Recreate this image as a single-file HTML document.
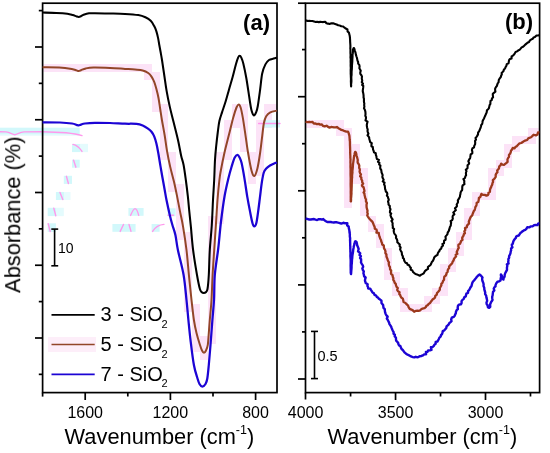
<!DOCTYPE html>
<html><head><meta charset="utf-8"><style>
html,body{margin:0;padding:0;background:#fff;width:550px;height:453px;overflow:hidden}
svg{display:block} text{will-change:transform}
</style></head><body>
<svg width="550" height="453" viewBox="0 0 550 453"><rect x="43.4" y="64" width="4.600000000000001" height="8" fill="#fce3f7"/>
<rect x="48" y="64" width="8" height="8" fill="#fce3f7"/>
<rect x="56" y="64" width="8" height="8" fill="#fce3f7"/>
<rect x="64" y="64" width="8" height="8" fill="#fce3f7"/>
<rect x="72" y="64" width="8" height="8" fill="#fce3f7"/>
<rect x="80" y="64" width="8" height="8" fill="#fce3f7"/>
<rect x="88" y="64" width="8" height="8" fill="#fce3f7"/>
<rect x="96" y="64" width="8" height="8" fill="#fce3f7"/>
<rect x="104" y="64" width="8" height="8" fill="#fce3f7"/>
<rect x="112" y="64" width="8" height="8" fill="#fce3f7"/>
<rect x="120" y="64" width="8" height="8" fill="#fce3f7"/>
<rect x="128" y="64" width="8" height="8" fill="#fce3f7"/>
<rect x="136" y="64" width="8" height="8" fill="#fce3f7"/>
<rect x="144" y="64" width="8" height="8" fill="#fce3f7"/>
<rect x="144" y="72" width="8" height="8" fill="#fce3f7"/>
<rect x="152" y="72" width="8" height="8" fill="#fce3f7"/>
<rect x="152" y="80" width="8" height="8" fill="#fce3f7"/>
<rect x="152" y="88" width="8" height="8" fill="#fce3f7"/>
<rect x="152" y="96" width="8" height="8" fill="#fce3f7"/>
<rect x="152" y="104" width="8" height="8" fill="#fce3f7"/>
<rect x="160" y="104" width="8" height="8" fill="#fce3f7"/>
<rect x="160" y="112" width="8" height="8" fill="#fce3f7"/>
<rect x="160" y="120" width="8" height="8" fill="#fce3f7"/>
<rect x="160" y="128" width="8" height="8" fill="#fce3f7"/>
<rect x="160" y="136" width="8" height="8" fill="#fce3f7"/>
<rect x="160" y="144" width="8" height="8" fill="#fce3f7"/>
<rect x="160" y="152" width="8" height="8" fill="#fce3f7"/>
<rect x="168" y="152" width="8" height="8" fill="#fce3f7"/>
<rect x="168" y="160" width="8" height="8" fill="#fce3f7"/>
<rect x="168" y="168" width="8" height="8" fill="#fce3f7"/>
<rect x="168" y="176" width="8" height="8" fill="#fce3f7"/>
<rect x="168" y="184" width="8" height="8" fill="#fce3f7"/>
<rect x="176" y="184" width="8" height="8" fill="#fce3f7"/>
<rect x="176" y="192" width="8" height="8" fill="#fce3f7"/>
<rect x="176" y="200" width="8" height="8" fill="#fce3f7"/>
<rect x="176" y="208" width="8" height="8" fill="#fce3f7"/>
<rect x="176" y="216" width="8" height="8" fill="#fce3f7"/>
<rect x="176" y="224" width="8" height="8" fill="#fce3f7"/>
<rect x="176" y="232" width="8" height="8" fill="#fce3f7"/>
<rect x="184" y="232" width="8" height="8" fill="#fce3f7"/>
<rect x="184" y="240" width="8" height="8" fill="#fce3f7"/>
<rect x="184" y="248" width="8" height="8" fill="#fce3f7"/>
<rect x="184" y="256" width="8" height="8" fill="#fce3f7"/>
<rect x="184" y="264" width="8" height="8" fill="#fce3f7"/>
<rect x="184" y="272" width="8" height="8" fill="#fce3f7"/>
<rect x="184" y="280" width="8" height="8" fill="#fce3f7"/>
<rect x="184" y="288" width="8" height="8" fill="#fce3f7"/>
<rect x="184" y="296" width="8" height="8" fill="#fce3f7"/>
<rect x="184" y="304" width="8" height="8" fill="#fce3f7"/>
<rect x="192" y="304" width="8" height="8" fill="#fce3f7"/>
<rect x="192" y="312" width="8" height="8" fill="#fce3f7"/>
<rect x="192" y="320" width="8" height="8" fill="#fce3f7"/>
<rect x="192" y="328" width="8" height="8" fill="#fce3f7"/>
<rect x="192" y="336" width="8" height="8" fill="#fce3f7"/>
<rect x="192" y="344" width="8" height="8" fill="#fce3f7"/>
<rect x="200" y="336" width="8" height="8" fill="#fce3f7"/>
<rect x="200" y="344" width="8" height="8" fill="#fce3f7"/>
<rect x="200" y="352" width="8" height="8" fill="#fce3f7"/>
<rect x="208" y="216" width="8" height="8" fill="#fce3f7"/>
<rect x="208" y="224" width="8" height="8" fill="#fce3f7"/>
<rect x="208" y="232" width="8" height="8" fill="#fce3f7"/>
<rect x="208" y="240" width="8" height="8" fill="#fce3f7"/>
<rect x="208" y="248" width="8" height="8" fill="#fce3f7"/>
<rect x="208" y="256" width="8" height="8" fill="#fce3f7"/>
<rect x="208" y="264" width="8" height="8" fill="#fce3f7"/>
<rect x="208" y="272" width="8" height="8" fill="#fce3f7"/>
<rect x="208" y="280" width="8" height="8" fill="#fce3f7"/>
<rect x="208" y="288" width="8" height="8" fill="#fce3f7"/>
<rect x="208" y="296" width="8" height="8" fill="#fce3f7"/>
<rect x="208" y="304" width="8" height="8" fill="#fce3f7"/>
<rect x="208" y="312" width="8" height="8" fill="#fce3f7"/>
<rect x="208" y="320" width="8" height="8" fill="#fce3f7"/>
<rect x="208" y="328" width="8" height="8" fill="#fce3f7"/>
<rect x="208" y="336" width="8" height="8" fill="#fce3f7"/>
<rect x="216" y="152" width="8" height="8" fill="#fce3f7"/>
<rect x="216" y="160" width="8" height="8" fill="#fce3f7"/>
<rect x="216" y="168" width="8" height="8" fill="#fce3f7"/>
<rect x="216" y="176" width="8" height="8" fill="#fce3f7"/>
<rect x="216" y="184" width="8" height="8" fill="#fce3f7"/>
<rect x="216" y="192" width="8" height="8" fill="#fce3f7"/>
<rect x="216" y="200" width="8" height="8" fill="#fce3f7"/>
<rect x="216" y="208" width="8" height="8" fill="#fce3f7"/>
<rect x="216" y="216" width="8" height="8" fill="#fce3f7"/>
<rect x="224" y="120" width="8" height="8" fill="#fce3f7"/>
<rect x="224" y="128" width="8" height="8" fill="#fce3f7"/>
<rect x="224" y="136" width="8" height="8" fill="#fce3f7"/>
<rect x="224" y="144" width="8" height="8" fill="#fce3f7"/>
<rect x="224" y="152" width="8" height="8" fill="#fce3f7"/>
<rect x="232" y="104" width="8" height="8" fill="#fce3f7"/>
<rect x="232" y="112" width="8" height="8" fill="#fce3f7"/>
<rect x="232" y="120" width="8" height="8" fill="#fce3f7"/>
<rect x="240" y="104" width="8" height="8" fill="#fce3f7"/>
<rect x="240" y="112" width="8" height="8" fill="#fce3f7"/>
<rect x="240" y="120" width="8" height="8" fill="#fce3f7"/>
<rect x="240" y="128" width="8" height="8" fill="#fce3f7"/>
<rect x="240" y="136" width="8" height="8" fill="#fce3f7"/>
<rect x="240" y="144" width="8" height="8" fill="#fce3f7"/>
<rect x="248" y="152" width="8" height="8" fill="#fce3f7"/>
<rect x="248" y="160" width="8" height="8" fill="#fce3f7"/>
<rect x="248" y="168" width="8" height="8" fill="#fce3f7"/>
<rect x="248" y="176" width="8" height="8" fill="#fce3f7"/>
<rect x="256" y="120" width="8" height="8" fill="#fce3f7"/>
<rect x="256" y="128" width="8" height="8" fill="#fce3f7"/>
<rect x="256" y="136" width="8" height="8" fill="#fce3f7"/>
<rect x="256" y="144" width="8" height="8" fill="#fce3f7"/>
<rect x="256" y="152" width="8" height="8" fill="#fce3f7"/>
<rect x="256" y="160" width="8" height="8" fill="#fce3f7"/>
<rect x="256" y="168" width="8" height="8" fill="#fce3f7"/>
<rect x="264" y="104" width="8" height="8" fill="#fce3f7"/>
<rect x="264" y="112" width="8" height="8" fill="#fce3f7"/>
<rect x="264" y="120" width="8" height="8" fill="#fce3f7"/>
<rect x="272" y="104" width="4.199999999999989" height="8" fill="#fce3f7"/>
<rect x="306.3" y="120" width="5.699999999999989" height="8" fill="#fce3f7"/>
<rect x="312" y="120" width="8" height="8" fill="#fce3f7"/>
<rect x="320" y="120" width="8" height="8" fill="#fce3f7"/>
<rect x="328" y="120" width="8" height="8" fill="#fce3f7"/>
<rect x="336" y="120" width="8" height="8" fill="#fce3f7"/>
<rect x="336" y="128" width="8" height="8" fill="#fce3f7"/>
<rect x="344" y="128" width="8" height="8" fill="#fce3f7"/>
<rect x="344" y="136" width="8" height="8" fill="#fce3f7"/>
<rect x="344" y="144" width="8" height="8" fill="#fce3f7"/>
<rect x="344" y="152" width="8" height="8" fill="#fce3f7"/>
<rect x="344" y="160" width="8" height="8" fill="#fce3f7"/>
<rect x="344" y="168" width="8" height="8" fill="#fce3f7"/>
<rect x="344" y="176" width="8" height="8" fill="#fce3f7"/>
<rect x="344" y="184" width="8" height="8" fill="#fce3f7"/>
<rect x="344" y="192" width="8" height="8" fill="#fce3f7"/>
<rect x="344" y="200" width="8" height="8" fill="#fce3f7"/>
<rect x="352" y="144" width="8" height="8" fill="#fce3f7"/>
<rect x="352" y="152" width="8" height="8" fill="#fce3f7"/>
<rect x="352" y="160" width="8" height="8" fill="#fce3f7"/>
<rect x="352" y="168" width="8" height="8" fill="#fce3f7"/>
<rect x="352" y="176" width="8" height="8" fill="#fce3f7"/>
<rect x="360" y="168" width="8" height="8" fill="#fce3f7"/>
<rect x="360" y="176" width="8" height="8" fill="#fce3f7"/>
<rect x="360" y="184" width="8" height="8" fill="#fce3f7"/>
<rect x="360" y="192" width="8" height="8" fill="#fce3f7"/>
<rect x="360" y="200" width="8" height="8" fill="#fce3f7"/>
<rect x="360" y="208" width="8" height="8" fill="#fce3f7"/>
<rect x="368" y="216" width="8" height="8" fill="#fce3f7"/>
<rect x="368" y="224" width="8" height="8" fill="#fce3f7"/>
<rect x="376" y="224" width="8" height="8" fill="#fce3f7"/>
<rect x="376" y="232" width="8" height="8" fill="#fce3f7"/>
<rect x="376" y="240" width="8" height="8" fill="#fce3f7"/>
<rect x="384" y="248" width="8" height="8" fill="#fce3f7"/>
<rect x="384" y="256" width="8" height="8" fill="#fce3f7"/>
<rect x="384" y="264" width="8" height="8" fill="#fce3f7"/>
<rect x="384" y="272" width="8" height="8" fill="#fce3f7"/>
<rect x="392" y="272" width="8" height="8" fill="#fce3f7"/>
<rect x="392" y="280" width="8" height="8" fill="#fce3f7"/>
<rect x="392" y="288" width="8" height="8" fill="#fce3f7"/>
<rect x="400" y="288" width="8" height="8" fill="#fce3f7"/>
<rect x="400" y="296" width="8" height="8" fill="#fce3f7"/>
<rect x="400" y="304" width="8" height="8" fill="#fce3f7"/>
<rect x="408" y="304" width="8" height="8" fill="#fce3f7"/>
<rect x="416" y="304" width="8" height="8" fill="#fce3f7"/>
<rect x="424" y="296" width="8" height="8" fill="#fce3f7"/>
<rect x="424" y="304" width="8" height="8" fill="#fce3f7"/>
<rect x="432" y="288" width="8" height="8" fill="#fce3f7"/>
<rect x="432" y="296" width="8" height="8" fill="#fce3f7"/>
<rect x="440" y="264" width="8" height="8" fill="#fce3f7"/>
<rect x="440" y="272" width="8" height="8" fill="#fce3f7"/>
<rect x="440" y="280" width="8" height="8" fill="#fce3f7"/>
<rect x="440" y="288" width="8" height="8" fill="#fce3f7"/>
<rect x="448" y="248" width="8" height="8" fill="#fce3f7"/>
<rect x="448" y="256" width="8" height="8" fill="#fce3f7"/>
<rect x="448" y="264" width="8" height="8" fill="#fce3f7"/>
<rect x="456" y="232" width="8" height="8" fill="#fce3f7"/>
<rect x="456" y="240" width="8" height="8" fill="#fce3f7"/>
<rect x="456" y="248" width="8" height="8" fill="#fce3f7"/>
<rect x="464" y="208" width="8" height="8" fill="#fce3f7"/>
<rect x="464" y="216" width="8" height="8" fill="#fce3f7"/>
<rect x="464" y="224" width="8" height="8" fill="#fce3f7"/>
<rect x="464" y="232" width="8" height="8" fill="#fce3f7"/>
<rect x="472" y="192" width="8" height="8" fill="#fce3f7"/>
<rect x="472" y="200" width="8" height="8" fill="#fce3f7"/>
<rect x="472" y="208" width="8" height="8" fill="#fce3f7"/>
<rect x="480" y="192" width="8" height="8" fill="#fce3f7"/>
<rect x="488" y="168" width="8" height="8" fill="#fce3f7"/>
<rect x="488" y="176" width="8" height="8" fill="#fce3f7"/>
<rect x="488" y="184" width="8" height="8" fill="#fce3f7"/>
<rect x="488" y="192" width="8" height="8" fill="#fce3f7"/>
<rect x="496" y="160" width="8" height="8" fill="#fce3f7"/>
<rect x="496" y="168" width="8" height="8" fill="#fce3f7"/>
<rect x="504" y="144" width="8" height="8" fill="#fce3f7"/>
<rect x="504" y="152" width="8" height="8" fill="#fce3f7"/>
<rect x="504" y="160" width="8" height="8" fill="#fce3f7"/>
<rect x="512" y="136" width="8" height="8" fill="#fce3f7"/>
<rect x="512" y="144" width="8" height="8" fill="#fce3f7"/>
<rect x="520" y="136" width="8" height="8" fill="#fce3f7"/>
<rect x="528" y="128" width="8" height="8" fill="#fce3f7"/>
<rect x="528" y="136" width="8" height="8" fill="#fce3f7"/>
<rect x="536" y="128" width="2.7999999999999545" height="8" fill="#fce3f7"/>
<rect x="0" y="127.7" width="79.7" height="6.799999999999997" fill="#d2f8fb" opacity="1"/>
<rect x="0" y="134.5" width="79.7" height="1.3000000000000114" fill="#d2f8fb" opacity="0.5"/>
<path d="M0,131.8 L6,131.9 C10,132.3 12.5,134.6 14.8,134.7 C17,134.6 19.5,132.4 24,131.9 L42,131.8 C60,132 72,132.6 82,135.6" fill="none" stroke="#ff98ec" stroke-width="1.4" stroke-linecap="round"/>
<rect x="72" y="143.9" width="8" height="8.199999999999989" fill="#d2f8fb" opacity="1"/>
<rect x="80" y="143.9" width="8" height="8.199999999999989" fill="#d2f8fb" opacity="0.6"/>
<path d="M73,144.4 C76,145 79,147 82,151.4" fill="none" stroke="#ff98ec" stroke-width="1.4" stroke-linecap="round"/>
<rect x="72" y="159.7" width="7.700000000000003" height="8.0" fill="#d2f8fb" opacity="1"/>
<path d="M73.6,160.2 L75.9,167.2" fill="none" stroke="#ff98ec" stroke-width="1.4" stroke-linecap="round"/>
<rect x="63.8" y="175.8" width="8.200000000000003" height="8.099999999999994" fill="#d2f8fb" opacity="1"/>
<path d="M66.4,176.3 L68.4,183.5" fill="none" stroke="#ff98ec" stroke-width="1.4" stroke-linecap="round"/>
<rect x="55.9" y="192" width="8.100000000000001" height="8" fill="#d2f8fb" opacity="1"/>
<rect x="64" y="192" width="6.5" height="8" fill="#d2f8fb" opacity="0.5"/>
<path d="M60,192.5 L62.8,199.6" fill="none" stroke="#ff98ec" stroke-width="1.4" stroke-linecap="round"/>
<rect x="47.7" y="207.8" width="8.299999999999997" height="8.299999999999983" fill="#d2f8fb" opacity="1"/>
<rect x="56" y="207.8" width="7.799999999999997" height="8.299999999999983" fill="#d2f8fb" opacity="0.6"/>
<path d="M53.8,208.3 L55.8,215.7" fill="none" stroke="#ff98ec" stroke-width="1.4" stroke-linecap="round"/>
<rect x="47.7" y="223.3" width="8.199999999999996" height="8.599999999999994" fill="#d2f8fb" opacity="1"/>
<path d="M48.2,223.8 L50.2,231.5" fill="none" stroke="#ff98ec" stroke-width="1.4" stroke-linecap="round"/>
<rect x="128.4" y="208" width="15.199999999999989" height="7.800000000000011" fill="#d2f8fb" opacity="1"/>
<path d="M130.6,215.4 C132.5,211 133.8,208.6 135,208.6 C136.4,208.6 137.6,211 138.7,215.4" fill="none" stroke="#ff98ec" stroke-width="1.4" stroke-linecap="round"/>
<rect x="112.4" y="224" width="23.19999999999999" height="7.800000000000011" fill="#d2f8fb" opacity="1"/>
<path d="M120.2,231.4 L123.5,224.5" fill="none" stroke="#ff98ec" stroke-width="1.4" stroke-linecap="round"/>
<path d="M129,224.5 L131,231.4" fill="none" stroke="#ff98ec" stroke-width="1.4" stroke-linecap="round"/>
<rect x="151.6" y="224" width="8.0" height="7.800000000000011" fill="#d2f8fb" opacity="1"/>
<path d="M152.6,231.4 C155,227.5 158,224.8 164,224.4" fill="none" stroke="#ff98ec" stroke-width="1.4" stroke-linecap="round"/>
<rect x="167.6" y="208.3" width="8.0" height="8.0" fill="#d2f8fb" opacity="1"/>
<path d="M168,215.3 L173.5,215.3" fill="none" stroke="#ff98ec" stroke-width="1.4" stroke-linecap="round"/>
<rect x="263.2" y="120.2" width="16.80000000000001" height="7.299999999999997" fill="#d2f8fb" opacity="1"/>
<path d="M258.6,123.5 L280,123.5" fill="none" stroke="#ff98ec" stroke-width="1.4" stroke-linecap="round"/>
<rect x="48" y="337" width="48" height="15" fill="#fdeef9" opacity="1"/>
<rect x="42.6" y="3.2" width="234.4" height="389.40000000000003" fill="none" stroke="#000" stroke-width="1.7"/>
<rect x="305.5" y="3.2" width="234.10000000000002" height="389.40000000000003" fill="none" stroke="#000" stroke-width="1.7"/>
<line x1="298" y1="3.2" x2="305.5" y2="3.2" stroke="#000" stroke-width="1.7"/>
<line x1="42.6" y1="392.6" x2="42.6" y2="396.6" stroke="#000" stroke-width="1.7"/>
<line x1="305.5" y1="392.6" x2="305.5" y2="399.5" stroke="#000" stroke-width="1.7"/>
<line x1="35" y1="47.0" x2="42.6" y2="47.0" stroke="#000" stroke-width="1.7"/>
<line x1="35" y1="119.75" x2="42.6" y2="119.75" stroke="#000" stroke-width="1.7"/>
<line x1="35" y1="192.5" x2="42.6" y2="192.5" stroke="#000" stroke-width="1.7"/>
<line x1="35" y1="265.25" x2="42.6" y2="265.25" stroke="#000" stroke-width="1.7"/>
<line x1="35" y1="338.0" x2="42.6" y2="338.0" stroke="#000" stroke-width="1.7"/>
<line x1="38.8" y1="10.6" x2="42.6" y2="10.6" stroke="#000" stroke-width="1.7"/>
<line x1="38.8" y1="83.35" x2="42.6" y2="83.35" stroke="#000" stroke-width="1.7"/>
<line x1="38.8" y1="156.1" x2="42.6" y2="156.1" stroke="#000" stroke-width="1.7"/>
<line x1="38.8" y1="228.85" x2="42.6" y2="228.85" stroke="#000" stroke-width="1.7"/>
<line x1="38.8" y1="301.6" x2="42.6" y2="301.6" stroke="#000" stroke-width="1.7"/>
<line x1="38.8" y1="374.35" x2="42.6" y2="374.35" stroke="#000" stroke-width="1.7"/>
<line x1="298" y1="96.7" x2="305.5" y2="96.7" stroke="#000" stroke-width="1.7"/>
<line x1="298" y1="190.8" x2="305.5" y2="190.8" stroke="#000" stroke-width="1.7"/>
<line x1="298" y1="284.9" x2="305.5" y2="284.9" stroke="#000" stroke-width="1.7"/>
<line x1="298" y1="378.99999999999994" x2="305.5" y2="378.99999999999994" stroke="#000" stroke-width="1.7"/>
<line x1="302" y1="49.6" x2="305.5" y2="49.6" stroke="#000" stroke-width="1.7"/>
<line x1="302" y1="143.7" x2="305.5" y2="143.7" stroke="#000" stroke-width="1.7"/>
<line x1="302" y1="237.79999999999998" x2="305.5" y2="237.79999999999998" stroke="#000" stroke-width="1.7"/>
<line x1="302" y1="331.9" x2="305.5" y2="331.9" stroke="#000" stroke-width="1.7"/>
<line x1="85.2" y1="392.6" x2="85.2" y2="400" stroke="#000" stroke-width="1.7"/>
<line x1="170.4" y1="392.6" x2="170.4" y2="400" stroke="#000" stroke-width="1.7"/>
<line x1="255.6" y1="392.6" x2="255.6" y2="400" stroke="#000" stroke-width="1.7"/>
<line x1="127.80000000000001" y1="392.6" x2="127.80000000000001" y2="396.5" stroke="#000" stroke-width="1.7"/>
<line x1="213.0" y1="392.6" x2="213.0" y2="396.5" stroke="#000" stroke-width="1.7"/>
<line x1="395.55" y1="392.6" x2="395.55" y2="400" stroke="#000" stroke-width="1.7"/>
<line x1="485.5" y1="392.6" x2="485.5" y2="400" stroke="#000" stroke-width="1.7"/>
<line x1="350.57500000000005" y1="392.6" x2="350.57500000000005" y2="396.5" stroke="#000" stroke-width="1.7"/>
<line x1="440.52500000000003" y1="392.6" x2="440.52500000000003" y2="396.5" stroke="#000" stroke-width="1.7"/>
<line x1="530.475" y1="392.6" x2="530.475" y2="396.5" stroke="#000" stroke-width="1.7"/>
<path d="M42.60,12.60 C44.90,12.65 52.28,12.72 56.40,12.90 C60.52,13.08 64.58,13.35 67.30,13.70 C70.02,14.05 71.17,14.55 72.70,15.00 C74.23,15.45 75.50,16.08 76.50,16.40 C77.50,16.72 77.95,16.93 78.70,16.90 C79.45,16.87 80.18,16.55 81.00,16.20 C81.82,15.85 82.27,15.28 83.60,14.80 C84.93,14.32 87.10,13.55 89.00,13.30 C90.90,13.05 91.58,13.27 95.00,13.30 C98.42,13.33 104.50,13.40 109.50,13.50 C114.50,13.60 120.20,13.63 125.00,13.90 C129.80,14.17 134.90,14.53 138.30,15.10 C141.70,15.67 143.33,16.35 145.40,17.30 C147.47,18.25 149.23,19.33 150.70,20.80 C152.17,22.27 153.25,24.33 154.20,26.10 C155.15,27.87 155.73,29.32 156.40,31.40 C157.07,33.48 157.72,36.33 158.20,38.60 C158.68,40.87 158.90,42.77 159.30,45.00 C159.70,47.23 160.15,49.50 160.60,52.00 C161.05,54.50 161.38,56.08 162.00,60.00 C162.62,63.92 163.53,70.35 164.30,75.50 C165.07,80.65 165.70,85.75 166.60,90.90 C167.50,96.05 168.55,101.25 169.70,106.40 C170.85,111.55 172.10,116.12 173.50,121.80 C174.90,127.48 176.82,134.82 178.10,140.50 C179.38,146.18 180.28,151.82 181.20,155.90 C182.12,159.98 182.82,160.90 183.60,165.00 C184.38,169.10 185.20,175.35 185.90,180.50 C186.60,185.65 187.23,190.75 187.80,195.90 C188.37,201.05 188.78,206.25 189.30,211.40 C189.82,216.55 190.27,220.37 190.90,226.80 C191.53,233.23 192.08,241.97 193.10,250.00 C194.12,258.03 195.87,268.50 197.00,275.00 C198.13,281.50 199.10,286.13 199.90,289.00 C200.70,291.87 201.15,291.55 201.80,292.20 C202.45,292.85 203.13,292.90 203.80,292.90 C204.47,292.90 205.18,292.85 205.80,292.20 C206.42,291.55 207.00,291.87 207.50,289.00 C208.00,286.13 208.42,281.50 208.80,275.00 C209.18,268.50 209.30,258.33 209.80,250.00 C210.30,241.67 211.27,233.33 211.80,225.00 C212.33,216.67 212.60,207.50 213.00,200.00 C213.40,192.50 213.87,186.67 214.20,180.00 C214.53,173.33 214.67,165.67 215.00,160.00 C215.33,154.33 215.73,150.67 216.20,146.00 C216.67,141.33 217.27,136.17 217.80,132.00 C218.33,127.83 218.68,124.32 219.40,121.00 C220.12,117.68 221.07,115.35 222.10,112.10 C223.13,108.85 224.43,105.32 225.60,101.50 C226.77,97.68 227.92,93.32 229.10,89.20 C230.28,85.08 231.55,81.00 232.70,76.80 C233.85,72.60 235.10,67.20 236.00,64.00 C236.90,60.80 237.48,58.97 238.10,57.60 C238.72,56.23 239.17,55.80 239.70,55.80 C240.23,55.80 240.70,56.32 241.30,57.60 C241.90,58.88 242.47,60.10 243.30,63.50 C244.13,66.90 245.28,72.25 246.30,78.00 C247.32,83.75 248.57,92.75 249.40,98.00 C250.23,103.25 250.57,106.60 251.30,109.50 C252.03,112.40 252.98,114.95 253.80,115.40 C254.62,115.85 255.53,113.77 256.20,112.20 C256.87,110.63 257.13,109.87 257.80,106.00 C258.47,102.13 259.47,94.42 260.20,89.00 C260.93,83.58 261.33,77.60 262.20,73.50 C263.07,69.40 264.27,66.65 265.40,64.40 C266.53,62.15 267.63,60.97 269.00,60.00 C270.37,59.03 272.27,58.98 273.60,58.60 C274.93,58.22 276.43,57.85 277.00,57.70" fill="none" stroke="#000" stroke-width="2.05" stroke-linejoin="round"/>
<path d="M42.60,67.30 C45.35,67.33 54.23,67.22 59.10,67.50 C63.97,67.78 68.90,68.52 71.80,69.00 C74.70,69.48 75.33,70.07 76.50,70.40 C77.67,70.73 78.05,71.03 78.80,71.00 C79.55,70.97 79.83,70.63 81.00,70.20 C82.17,69.77 83.72,68.85 85.80,68.40 C87.88,67.95 89.47,67.58 93.50,67.50 C97.53,67.42 104.75,67.67 110.00,67.90 C115.25,68.13 120.83,68.62 125.00,68.90 C129.17,69.18 132.05,69.33 135.00,69.60 C137.95,69.87 140.50,69.93 142.70,70.50 C144.90,71.07 146.73,71.98 148.20,73.00 C149.67,74.02 150.50,75.12 151.50,76.60 C152.50,78.08 153.38,79.83 154.20,81.90 C155.02,83.97 155.68,86.32 156.40,89.00 C157.12,91.68 157.87,94.67 158.50,98.00 C159.13,101.33 159.62,105.25 160.20,109.00 C160.78,112.75 161.25,116.08 162.00,120.50 C162.75,124.92 163.87,130.43 164.70,135.50 C165.53,140.57 166.10,145.75 167.00,150.90 C167.90,156.05 168.93,161.25 170.10,166.40 C171.27,171.55 172.85,176.88 174.00,181.80 C175.15,186.72 176.00,190.97 177.00,195.90 C178.00,200.83 178.98,206.25 180.00,211.40 C181.02,216.55 182.02,220.37 183.10,226.80 C184.18,233.23 185.53,241.97 186.50,250.00 C187.47,258.03 188.07,266.67 188.90,275.00 C189.73,283.33 190.67,292.50 191.50,300.00 C192.33,307.50 193.07,314.50 193.90,320.00 C194.73,325.50 195.50,328.87 196.50,333.00 C197.50,337.13 198.98,341.88 199.90,344.80 C200.82,347.72 201.32,349.17 202.00,350.50 C202.68,351.83 203.33,352.80 204.00,352.80 C204.67,352.80 205.37,351.83 206.00,350.50 C206.63,349.17 207.33,347.72 207.80,344.80 C208.27,341.88 208.47,337.13 208.80,333.00 C209.13,328.87 209.35,325.50 209.80,320.00 C210.25,314.50 211.03,307.50 211.50,300.00 C211.97,292.50 212.15,283.33 212.60,275.00 C213.05,266.67 213.65,258.33 214.20,250.00 C214.75,241.67 215.35,233.33 215.90,225.00 C216.45,216.67 216.92,207.50 217.50,200.00 C218.08,192.50 218.85,184.88 219.40,180.00 C219.95,175.12 219.97,175.20 220.80,170.70 C221.63,166.20 223.07,158.90 224.40,153.00 C225.73,147.10 227.33,141.18 228.80,135.30 C230.27,129.42 231.92,122.33 233.20,117.70 C234.48,113.07 235.58,109.70 236.50,107.50 C237.42,105.30 238.00,104.45 238.70,104.50 C239.40,104.55 240.02,105.60 240.70,107.80 C241.38,110.00 242.00,113.12 242.80,117.70 C243.60,122.28 244.62,129.42 245.50,135.30 C246.38,141.18 247.10,147.13 248.10,153.00 C249.10,158.87 250.47,166.67 251.50,170.50 C252.53,174.33 253.32,176.33 254.30,176.00 C255.28,175.67 256.43,172.33 257.40,168.50 C258.37,164.67 259.28,158.53 260.10,153.00 C260.92,147.47 261.67,140.30 262.30,135.30 C262.93,130.30 263.25,126.17 263.90,123.00 C264.55,119.83 265.13,118.08 266.20,116.30 C267.27,114.52 268.50,113.25 270.30,112.30 C272.10,111.35 275.88,110.88 277.00,110.60" fill="none" stroke="#924628" stroke-width="2.0" stroke-linejoin="round"/>
<path d="M42.60,122.30 C45.50,122.33 55.10,122.30 60.00,122.50 C64.90,122.70 69.25,123.12 72.00,123.50 C74.75,123.88 75.38,124.48 76.50,124.80 C77.62,125.12 77.95,125.43 78.70,125.40 C79.45,125.37 79.95,124.92 81.00,124.60 C82.05,124.28 82.67,123.80 85.00,123.50 C87.33,123.20 90.83,122.88 95.00,122.80 C99.17,122.72 105.00,122.85 110.00,123.00 C115.00,123.15 120.58,123.55 125.00,123.70 C129.42,123.85 133.55,123.60 136.50,123.90 C139.45,124.20 140.78,124.70 142.70,125.50 C144.62,126.30 146.53,127.65 148.00,128.70 C149.47,129.75 150.47,130.52 151.50,131.80 C152.53,133.08 153.38,134.45 154.20,136.40 C155.02,138.35 155.73,140.82 156.40,143.50 C157.07,146.18 157.52,148.68 158.20,152.50 C158.88,156.32 159.80,162.28 160.50,166.40 C161.20,170.52 161.70,173.27 162.40,177.20 C163.10,181.13 164.02,186.20 164.70,190.00 C165.38,193.80 165.62,195.67 166.50,200.00 C167.38,204.33 169.02,211.83 170.00,216.00 C170.98,220.17 171.50,221.83 172.40,225.00 C173.30,228.17 174.48,230.83 175.40,235.00 C176.32,239.17 176.53,243.33 177.90,250.00 C179.27,256.67 182.17,266.67 183.60,275.00 C185.03,283.33 185.70,292.50 186.50,300.00 C187.30,307.50 187.73,313.33 188.40,320.00 C189.07,326.67 189.58,332.50 190.50,340.00 C191.42,347.50 192.73,358.58 193.90,365.00 C195.07,371.42 196.57,375.33 197.50,378.50 C198.43,381.67 198.70,382.63 199.50,384.00 C200.30,385.37 201.30,386.70 202.30,386.70 C203.30,386.70 204.67,385.37 205.50,384.00 C206.33,382.63 206.75,381.67 207.30,378.50 C207.85,375.33 208.27,370.58 208.80,365.00 C209.33,359.42 209.90,352.50 210.50,345.00 C211.10,337.50 211.82,327.50 212.40,320.00 C212.98,312.50 213.60,307.50 214.00,300.00 C214.40,292.50 214.08,283.67 214.80,275.00 C215.52,266.33 217.27,256.92 218.30,248.00 C219.33,239.08 219.95,230.17 221.00,221.50 C222.05,212.83 223.35,203.25 224.60,196.00 C225.85,188.75 227.35,182.83 228.50,178.00 C229.65,173.17 230.48,170.37 231.50,167.00 C232.52,163.63 233.60,159.83 234.60,157.80 C235.60,155.77 236.67,154.85 237.50,154.80 C238.33,154.75 238.92,156.12 239.60,157.50 C240.28,158.88 240.80,159.67 241.60,163.10 C242.40,166.53 243.45,172.47 244.40,178.10 C245.35,183.73 246.35,191.27 247.30,196.90 C248.25,202.53 249.23,207.52 250.10,211.90 C250.97,216.28 251.82,220.78 252.50,223.20 C253.18,225.62 253.57,226.40 254.20,226.40 C254.83,226.40 255.65,225.62 256.30,223.20 C256.95,220.78 257.48,216.28 258.10,211.90 C258.72,207.52 259.37,201.90 260.00,196.90 C260.63,191.90 261.27,185.97 261.90,181.90 C262.53,177.83 263.12,174.68 263.80,172.50 C264.48,170.32 264.97,169.97 266.00,168.80 C267.03,167.63 268.43,166.48 270.00,165.50 C271.57,164.52 274.23,163.40 275.40,162.90 C276.57,162.40 276.73,162.57 277.00,162.50" fill="none" stroke="#1c04d4" stroke-width="2.25" stroke-linejoin="round"/>
<path d="M305.60,20.60 L306.52,20.60 L307.72,21.06 L309.24,20.92 L310.84,21.06 L312.49,20.97 L314.01,21.41 L315.50,22.06 L317.11,21.83 L318.72,22.13 L320.31,21.86 L321.81,22.01 L323.19,22.08 L325.18,21.71 L326.47,23.24 L327.99,23.61 L329.46,24.01 L331.41,23.31 L333.19,23.35 L335.06,23.93 L336.63,24.46 L338.23,25.21 L339.92,25.57 L341.32,26.30 L343.23,26.57 L344.57,27.70 L345.80,28.53 L347.46,29.49 L347.58,31.46 L348.92,32.62 L349.43,34.72 L349.72,35.83 L349.89,37.07 L350.00,38.49 L350.10,40.12 L350.16,42.00 L350.24,43.16 L350.32,44.37 L350.39,45.65 L350.39,47.00 L350.31,48.43 L350.47,49.94 L350.43,51.53 L350.44,53.22 L350.59,55.00 L350.52,56.23 L350.46,57.57 L350.69,58.98 L350.61,60.46 L350.61,61.98 L350.68,63.54 L350.62,65.11 L350.68,66.67 L350.79,68.21 L350.66,69.72 L350.69,71.16 L350.70,72.54 L350.69,73.82 L350.78,75.00 L350.83,77.05 L350.94,79.20 L350.85,81.31 L350.95,83.23 L350.97,84.83 L351.06,85.97 L351.09,86.49 L351.07,86.29 L351.22,85.82 L351.06,85.05 L351.14,84.05 L351.30,82.84 L351.42,81.45 L351.42,79.91 L351.33,78.26 L351.35,76.53 L351.59,74.76 L351.59,72.97 L351.63,71.20 L351.83,69.50 L351.91,67.87 L351.93,66.36 L352.02,65.00 L352.13,63.36 L352.30,61.65 L352.34,59.90 L352.43,58.14 L352.54,56.41 L352.52,54.74 L352.82,53.20 L352.93,51.78 L353.04,50.53 L353.03,49.47 L353.28,48.70 L353.54,48.24 L353.99,48.01 L354.39,48.98 L354.83,50.59 L355.50,52.54 L355.87,54.66 L356.47,56.51 L356.91,57.77 L357.19,59.15 L357.49,60.59 L358.13,61.96 L358.14,63.57 L359.29,64.89 L359.59,66.48 L359.37,68.20 L360.08,69.43 L360.74,70.75 L360.27,72.36 L360.33,73.89 L361.39,75.24 L362.03,76.66 L361.76,78.18 L361.98,79.55 L362.25,80.82 L361.72,82.09 L362.97,83.66 L362.14,84.89 L363.28,85.87 L363.19,87.42 L362.84,90.02 L362.73,91.05 L362.94,92.15 L363.27,93.32 L363.47,94.60 L363.59,95.96 L363.54,97.39 L363.98,98.83 L363.93,100.37 L363.95,101.92 L364.34,103.47 L364.17,105.09 L364.41,106.67 L363.97,108.32 L364.84,109.81 L365.33,111.32 L365.48,112.82 L365.51,114.30 L365.30,115.80 L366.01,117.22 L365.90,118.78 L365.49,120.39 L367.53,121.70 L367.13,123.34 L366.77,124.97 L366.93,126.52 L367.21,128.04 L367.71,129.50 L367.49,131.04 L367.87,132.44 L368.44,133.77 L367.46,135.31 L368.56,136.42 L369.18,137.54 L369.24,138.69 L369.78,140.56 L370.22,142.21 L371.76,143.23 L371.44,144.83 L371.42,146.27 L372.79,147.00 L372.93,148.33 L373.09,149.68 L373.67,150.94 L373.97,152.39 L375.77,153.23 L375.81,154.80 L376.37,156.16 L376.56,157.67 L376.93,159.10 L378.93,159.88 L377.98,161.80 L379.47,162.80 L379.10,164.45 L380.42,165.52 L380.20,167.09 L380.22,168.58 L381.17,169.77 L381.43,171.16 L381.57,172.58 L382.20,173.86 L382.64,175.19 L382.33,176.85 L382.84,178.30 L383.68,179.70 L382.73,181.42 L384.57,182.64 L384.00,184.31 L384.78,185.74 L384.95,187.31 L385.03,188.74 L385.57,190.06 L385.76,191.47 L387.00,192.61 L387.37,194.00 L386.88,195.64 L387.89,196.91 L388.27,198.39 L388.80,199.87 L387.99,201.54 L388.51,203.00 L388.53,204.61 L389.83,206.00 L389.75,207.68 L390.52,209.17 L390.02,210.86 L389.95,212.41 L391.23,213.63 L390.45,215.11 L390.98,216.75 L391.69,218.19 L392.64,219.48 L391.42,221.00 L392.24,222.21 L392.67,223.48 L392.54,224.93 L392.85,226.36 L392.76,227.91 L394.15,229.07 L393.67,230.74 L393.94,232.22 L394.38,233.65 L395.47,234.88 L396.16,236.22 L395.94,237.88 L396.80,239.17 L397.32,240.58 L397.32,242.18 L398.50,243.35 L399.81,244.48 L399.56,246.20 L400.65,247.51 L400.10,249.39 L400.81,250.82 L401.66,252.12 L401.88,253.53 L401.97,254.82 L402.88,256.38 L402.89,257.89 L403.92,258.82 L404.12,260.22 L404.71,261.52 L405.50,262.67 L407.13,263.21 L407.50,264.81 L409.22,265.30 L409.75,266.73 L410.87,267.79 L410.64,269.71 L412.20,270.17 L413.04,271.93 L414.29,273.05 L415.51,273.99 L416.99,274.39 L418.38,275.08 L419.89,275.75 L421.07,274.66 L422.38,274.14 L423.76,273.33 L424.44,272.09 L425.14,270.81 L426.40,269.86 L428.06,268.87 L427.91,267.09 L429.08,266.04 L430.49,264.99 L431.27,263.50 L431.84,261.92 L432.98,260.79 L433.63,259.42 L434.07,257.90 L434.84,256.65 L436.04,255.74 L437.45,254.95 L437.81,253.36 L438.52,252.09 L439.36,251.01 L439.87,249.70 L441.16,248.76 L441.58,247.07 L443.04,245.57 L442.45,244.07 L443.96,243.41 L444.07,242.07 L444.06,240.63 L445.61,239.74 L445.72,238.25 L445.46,236.58 L446.51,235.36 L447.49,234.08 L447.71,232.50 L448.71,231.19 L449.20,229.70 L449.59,228.39 L449.88,227.02 L450.71,225.78 L450.85,224.31 L451.19,222.87 L450.58,221.15 L452.21,220.06 L452.79,218.65 L452.57,217.00 L452.93,215.52 L454.34,214.35 L453.29,212.45 L454.63,211.29 L455.87,210.11 L454.97,208.35 L456.06,207.25 L457.00,206.09 L456.68,204.48 L457.43,203.25 L458.05,201.98 L457.82,200.39 L458.63,199.18 L459.26,197.91 L459.95,196.65 L460.07,195.20 L460.46,193.86 L460.57,192.42 L461.26,191.18 L462.16,190.01 L462.25,188.47 L462.27,186.88 L462.66,185.38 L464.47,184.21 L464.21,182.52 L464.36,180.94 L463.39,179.12 L465.04,177.93 L465.31,176.46 L466.12,175.16 L465.91,173.68 L466.00,172.34 L466.53,171.18 L465.81,169.80 L467.50,168.20 L467.60,166.62 L467.51,165.26 L468.65,164.31 L469.20,163.12 L468.35,161.24 L469.23,159.42 L469.96,158.40 L470.29,157.17 L470.46,155.81 L470.65,154.38 L472.33,153.35 L472.35,151.75 L471.93,149.98 L472.35,148.44 L474.06,147.31 L474.28,145.68 L475.11,144.27 L475.21,142.63 L475.05,140.92 L476.00,139.64 L475.52,137.97 L476.55,136.85 L477.31,135.63 L478.03,134.39 L478.03,132.89 L478.77,131.66 L479.51,130.43 L479.98,129.10 L480.60,127.82 L480.95,126.44 L481.27,125.03 L482.22,123.89 L482.46,122.45 L482.65,120.99 L483.26,119.70 L484.04,118.48 L484.54,117.13 L485.20,115.85 L485.70,114.50 L486.33,113.20 L486.78,111.82 L486.92,110.31 L488.13,109.26 L488.95,108.04 L489.27,106.61 L489.59,105.18 L490.39,103.95 L490.38,102.40 L490.54,100.93 L491.82,99.91 L491.94,98.42 L493.10,97.28 L492.88,95.62 L492.76,93.99 L493.88,92.78 L495.41,91.70 L495.11,90.02 L495.18,88.48 L495.89,87.18 L496.86,86.01 L497.29,84.70 L497.61,83.40 L498.55,82.40 L498.67,81.16 L498.79,80.00 L499.76,78.34 L500.82,77.03 L501.18,75.61 L501.80,74.44 L501.62,72.90 L502.58,71.96 L503.56,70.95 L503.89,69.44 L505.07,68.44 L505.59,67.02 L506.43,65.71 L506.75,64.11 L508.52,63.30 L508.80,61.70 L509.05,60.09 L509.94,58.94 L511.57,58.45 L511.60,56.42 L513.00,55.60 L514.05,54.59 L514.82,53.30 L515.58,51.95 L517.08,51.39 L518.30,50.41 L519.60,49.71 L520.65,48.63 L521.64,47.41 L523.07,46.71 L524.21,45.65 L525.31,44.61 L526.43,43.66 L527.44,42.72 L529.07,41.94 L529.98,40.31 L531.40,39.44 L532.80,38.72 L533.60,37.39 L534.91,37.04 L536.51,35.46 L538.28,35.39 L539.40,35.30" fill="none" stroke="#000" stroke-width="2.1" stroke-linejoin="round"/>
<path d="M305.60,121.50 L306.47,121.87 L307.71,122.05 L309.23,122.01 L310.85,122.19 L312.57,121.99 L313.83,123.65 L315.43,123.49 L316.88,124.16 L318.67,123.84 L320.13,124.61 L321.88,124.43 L323.11,125.92 L324.67,126.41 L326.62,125.72 L328.05,126.92 L329.55,127.60 L331.20,126.95 L332.36,127.14 L334.10,127.46 L335.43,127.36 L336.91,127.02 L338.36,128.18 L339.89,129.09 L341.31,129.95 L343.25,130.48 L344.82,131.20 L346.25,131.57 L348.07,131.59 L348.65,133.06 L349.37,135.58 L349.49,136.55 L349.54,137.60 L349.64,138.74 L349.70,140.00 L349.91,141.38 L349.96,142.92 L349.96,144.63 L350.04,146.52 L350.12,148.60 L350.14,149.73 L350.22,150.94 L350.16,152.23 L350.21,153.57 L350.27,154.96 L350.34,156.41 L350.34,157.89 L350.52,159.41 L350.44,160.96 L350.41,162.53 L350.53,164.11 L350.45,165.70 L350.47,167.29 L350.59,168.87 L350.55,170.44 L350.57,171.99 L350.55,173.51 L350.56,175.00 L350.62,176.55 L350.69,178.25 L350.66,180.07 L350.66,181.98 L350.62,183.94 L350.65,185.94 L350.72,187.94 L350.76,189.90 L350.70,191.81 L350.74,193.63 L350.77,195.33 L350.72,196.88 L350.76,198.25 L350.74,199.42 L350.74,200.35 L350.84,201.00 L350.71,201.40 L350.88,201.39 L351.01,201.17 L351.00,200.67 L351.11,199.95 L350.95,199.02 L351.11,197.92 L351.23,196.64 L351.32,195.22 L351.49,193.68 L351.43,192.02 L351.56,190.28 L351.60,188.48 L351.69,186.63 L351.74,184.75 L351.78,182.86 L351.90,181.00 L351.89,179.16 L352.12,177.38 L352.07,175.67 L352.24,174.07 L352.45,172.58 L352.39,171.21 L352.50,170.00 L352.76,167.95 L352.88,165.92 L353.03,163.94 L353.32,162.05 L353.56,160.24 L353.79,158.54 L353.93,156.97 L354.32,155.60 L354.54,154.38 L354.67,153.34 L354.90,152.55 L355.08,151.98 L355.53,151.99 L356.14,153.32 L356.54,155.57 L357.25,157.95 L357.78,159.93 L357.61,161.49 L357.71,162.77 L358.61,163.92 L359.28,165.52 L359.17,167.97 L359.73,168.96 L359.82,170.20 L359.58,171.63 L360.01,173.03 L360.97,174.42 L360.10,176.20 L361.34,177.61 L361.30,179.26 L362.18,180.71 L362.20,182.27 L363.17,183.58 L361.95,185.18 L362.34,186.35 L363.60,187.21 L364.14,189.47 L364.47,191.08 L363.53,192.53 L364.42,193.58 L364.52,194.99 L364.96,196.50 L365.24,197.99 L366.00,199.43 L365.92,201.23 L366.90,203.10 L366.52,204.49 L366.53,205.96 L366.63,207.52 L367.08,209.12 L367.54,210.73 L367.29,212.38 L367.79,213.86 L367.23,215.44 L367.90,216.61 L369.03,218.23 L370.10,219.50 L371.20,220.58 L372.31,221.64 L373.02,223.02 L373.54,224.48 L374.13,225.83 L374.73,227.15 L374.77,228.75 L376.47,229.57 L376.83,230.93 L376.45,232.58 L378.76,232.88 L378.93,234.54 L379.43,236.43 L379.88,237.51 L380.26,238.76 L381.02,239.99 L381.31,241.49 L381.97,242.89 L382.23,244.46 L383.81,245.53 L383.92,247.09 L384.06,248.56 L384.91,249.66 L385.50,251.32 L385.40,253.16 L386.43,254.54 L386.41,256.19 L386.82,257.60 L387.41,258.84 L387.69,260.06 L388.34,261.49 L389.04,262.38 L388.71,263.68 L389.12,265.85 L389.83,266.75 L390.02,267.96 L390.08,269.35 L391.17,270.51 L391.03,272.16 L391.04,273.83 L392.51,275.04 L392.75,276.68 L393.40,278.18 L393.26,279.91 L394.26,281.18 L394.55,282.63 L395.72,283.84 L396.02,285.39 L396.59,286.83 L397.85,287.99 L397.19,289.92 L397.99,291.23 L399.61,292.14 L399.26,293.89 L400.21,295.01 L400.61,296.34 L401.27,297.48 L402.81,298.58 L403.24,300.28 L403.57,302.03 L405.19,302.79 L406.26,303.84 L407.28,304.83 L408.15,305.84 L408.60,307.20 L409.66,308.92 L411.40,309.60 L412.86,310.37 L414.17,311.73 L416.01,310.78 L417.22,310.63 L418.65,310.88 L420.06,310.47 L421.24,309.30 L422.62,308.54 L424.36,308.21 L425.76,307.18 L426.33,305.86 L427.66,305.23 L428.60,304.05 L429.97,303.16 L430.83,301.77 L431.86,300.54 L432.75,299.24 L434.14,298.41 L435.10,297.37 L435.28,295.91 L436.75,294.72 L437.02,293.05 L438.01,292.01 L438.90,290.92 L439.83,289.75 L439.86,287.93 L440.59,286.74 L441.34,285.45 L441.36,283.74 L442.60,282.57 L442.99,280.99 L444.04,279.74 L444.08,278.11 L444.34,276.66 L445.72,275.63 L446.34,274.37 L446.54,272.99 L447.60,272.00 L447.67,270.58 L448.12,269.24 L449.18,268.09 L449.07,266.46 L450.11,265.41 L451.10,264.32 L452.19,263.24 L452.61,261.72 L453.56,260.46 L453.95,258.86 L455.02,257.55 L456.08,256.50 L455.67,254.81 L457.38,253.85 L456.67,252.01 L457.41,250.65 L457.95,249.21 L458.76,247.87 L458.34,246.15 L458.48,244.63 L460.04,243.69 L460.67,242.29 L461.17,240.86 L462.52,239.81 L462.15,238.05 L462.74,236.73 L463.56,235.53 L463.90,234.15 L464.93,233.10 L464.32,231.40 L465.28,230.00 L464.98,228.15 L466.91,227.24 L467.00,225.64 L468.05,224.47 L469.08,223.35 L468.80,221.70 L469.35,220.26 L469.88,218.94 L470.37,217.66 L471.09,216.47 L472.23,215.35 L472.71,213.71 L473.24,212.53 L473.69,211.20 L474.68,210.00 L475.09,208.50 L475.43,206.96 L476.32,205.68 L476.58,204.19 L476.74,202.75 L478.26,202.05 L478.71,200.00 L478.90,198.01 L480.40,196.85 L480.89,195.48 L481.42,193.91 L483.08,194.95 L484.76,194.92 L486.40,195.66 L487.84,195.07 L488.44,194.17 L488.44,192.83 L489.91,191.86 L489.98,190.24 L490.33,188.63 L491.14,187.15 L491.52,185.91 L492.27,184.71 L492.41,183.20 L493.09,181.88 L492.83,180.16 L494.04,179.07 L494.98,177.93 L495.72,176.80 L495.64,174.98 L496.27,173.47 L497.46,172.22 L497.19,170.56 L498.09,169.45 L498.93,168.51 L499.30,166.30 L500.64,165.19 L501.16,163.70 L502.52,164.66 L503.99,164.97 L504.89,164.22 L506.17,163.19 L507.61,161.83 L507.45,159.38 L508.03,158.16 L509.02,156.83 L508.98,155.00 L510.17,153.59 L510.77,152.07 L511.02,150.59 L511.87,149.75 L512.72,147.85 L514.47,148.43 L515.34,147.06 L516.76,146.16 L518.06,144.74 L519.50,143.47 L521.28,143.01 L522.74,141.96 L524.42,140.86 L525.76,140.45 L527.19,139.98 L528.05,138.56 L529.45,137.80 L531.06,137.25 L532.25,136.15 L533.58,134.76 L535.94,135.38 L537.48,134.53 L538.08,132.30 L539.40,132.60" fill="none" stroke="#9c381c" stroke-width="2.3" stroke-linejoin="round"/>
<path d="M305.60,218.70 L306.51,218.78 L307.74,219.10 L309.20,219.48 L310.82,219.52 L312.48,219.27 L314.03,219.06 L315.53,219.61 L317.17,220.02 L318.84,219.14 L320.43,219.18 L321.84,219.66 L323.25,219.03 L324.72,220.51 L326.08,221.33 L327.35,222.01 L329.10,221.83 L330.82,221.98 L332.31,222.33 L333.93,222.48 L335.34,222.08 L336.80,222.31 L338.27,222.70 L339.74,223.05 L341.29,223.51 L343.34,222.78 L345.30,223.31 L347.32,223.10 L347.20,225.41 L348.69,226.41 L348.72,227.60 L348.98,228.89 L349.36,230.34 L349.47,232.00 L349.63,233.10 L349.86,234.16 L349.82,235.32 L349.85,236.67 L350.13,238.31 L350.05,240.40 L350.13,241.47 L350.15,242.66 L350.19,243.96 L350.17,245.35 L350.30,246.80 L350.27,248.31 L350.39,249.85 L350.35,251.41 L350.48,252.95 L350.47,254.48 L350.39,255.97 L350.51,257.40 L350.58,258.75 L350.67,260.00 L350.69,261.77 L350.66,263.69 L350.63,265.65 L350.69,267.59 L350.70,269.41 L350.77,271.04 L350.72,272.40 L350.88,273.40 L350.95,273.95 L351.05,274.02 L351.08,273.61 L351.14,272.84 L351.21,271.76 L351.32,270.42 L351.47,268.86 L351.56,267.14 L351.57,265.31 L351.80,263.43 L351.91,261.54 L351.97,259.70 L352.23,257.97 L352.32,256.38 L352.48,255.00 L352.78,253.31 L353.06,251.54 L353.21,249.73 L353.56,247.98 L353.77,246.29 L354.27,244.80 L354.41,243.43 L354.83,242.39 L355.04,241.58 L355.42,241.25 L355.77,241.41 L356.50,242.03 L356.88,243.42 L357.16,245.19 L357.91,247.06 L358.66,249.00 L358.03,251.23 L359.19,252.22 L360.22,253.36 L359.53,254.98 L360.91,256.17 L360.06,257.92 L361.10,259.28 L361.13,260.87 L361.00,262.51 L361.80,263.94 L362.75,265.31 L363.20,266.75 L362.33,268.48 L362.83,269.99 L363.79,271.44 L363.41,273.16 L363.87,274.72 L364.12,276.29 L365.63,277.54 L365.14,279.14 L364.97,280.60 L365.37,281.81 L365.65,282.93 L367.66,284.20 L367.37,285.95 L368.01,287.00 L368.16,288.48 L370.21,288.65 L370.89,289.91 L371.73,291.15 L372.49,292.54 L373.96,293.34 L374.52,294.96 L376.14,295.58 L376.82,296.93 L378.05,297.60 L378.86,298.72 L380.13,299.54 L381.47,300.69 L381.49,303.01 L382.28,303.92 L383.11,304.99 L383.30,306.43 L383.48,307.94 L384.75,309.16 L384.89,310.80 L385.12,312.44 L385.62,313.99 L386.45,315.41 L387.65,316.66 L386.81,318.54 L387.67,319.75 L388.39,321.22 L389.10,322.64 L389.49,324.17 L390.36,325.45 L391.19,326.73 L391.68,328.13 L392.23,329.50 L392.83,330.83 L393.64,332.06 L393.56,333.71 L394.90,334.74 L394.71,336.43 L395.93,337.53 L395.97,339.12 L396.15,340.65 L397.19,341.78 L398.14,342.89 L398.46,344.26 L399.07,345.44 L400.41,346.10 L400.90,347.62 L401.59,349.01 L402.76,349.95 L403.60,351.14 L404.44,352.31 L405.47,353.21 L406.47,354.08 L407.56,354.70 L409.07,355.27 L410.29,356.12 L411.62,356.64 L412.92,357.08 L414.26,357.39 L415.67,356.78 L416.99,357.21 L418.39,357.03 L419.67,356.20 L421.25,355.99 L422.82,355.47 L424.13,354.38 L426.10,354.22 L425.93,351.90 L427.55,351.87 L428.11,350.46 L429.94,350.36 L431.47,349.83 L430.91,347.28 L432.71,346.95 L433.81,345.95 L434.49,344.62 L435.68,343.75 L435.63,341.91 L437.51,341.54 L438.17,340.24 L438.84,338.95 L439.41,337.59 L440.62,336.64 L440.99,335.15 L442.01,334.08 L442.53,332.69 L442.71,331.08 L444.30,330.38 L445.22,329.20 L446.27,328.07 L446.55,326.43 L447.69,325.39 L448.75,324.31 L449.39,323.01 L450.55,322.11 L451.53,321.19 L451.18,319.49 L451.81,317.71 L453.67,316.93 L454.70,315.77 L455.20,314.41 L455.84,313.18 L455.97,311.68 L456.63,310.23 L457.83,309.11 L457.69,307.45 L457.96,305.89 L459.04,304.59 L461.01,304.20 L461.59,302.95 L461.56,301.15 L462.46,299.91 L463.76,298.79 L464.44,297.03 L465.82,296.45 L466.02,295.01 L466.39,293.59 L468.01,292.85 L468.09,291.16 L469.15,290.03 L469.83,288.69 L470.47,287.37 L471.43,286.30 L471.75,284.95 L472.17,283.30 L472.86,281.77 L474.02,280.49 L475.01,279.18 L476.04,278.04 L476.80,276.93 L477.64,276.17 L478.13,275.44 L479.52,274.52 L480.83,275.47 L482.50,277.42 L482.13,278.74 L482.23,280.00 L482.58,281.34 L483.22,282.75 L483.61,284.32 L483.52,286.06 L484.26,287.64 L484.32,289.35 L484.73,290.94 L485.21,292.42 L485.09,294.05 L486.17,295.59 L486.39,297.37 L486.87,299.12 L487.16,300.86 L486.48,302.68 L486.69,304.21 L487.69,305.33 L487.77,306.41 L487.94,307.34 L489.16,307.75 L490.26,306.77 L490.09,304.45 L491.14,302.02 L491.86,301.11 L492.55,299.95 L492.28,298.43 L492.16,296.82 L492.65,295.24 L492.81,293.55 L493.03,291.87 L494.30,290.44 L493.74,288.73 L494.33,287.38 L495.52,286.39 L495.44,285.33 L496.33,283.14 L497.46,281.75 L499.01,281.36 L500.49,280.54 L500.69,278.58 L501.18,276.65 L500.84,274.97 L500.97,274.37 L501.84,275.64 L502.40,278.42 L503.49,279.55 L503.29,278.13 L504.16,277.44 L504.65,276.30 L504.69,274.81 L505.19,273.25 L506.06,271.61 L507.01,269.86 L506.93,267.77 L507.33,265.73 L506.87,264.41 L508.59,263.54 L508.17,262.03 L508.46,260.63 L508.36,259.07 L509.16,257.68 L509.10,256.05 L509.95,254.63 L510.49,253.13 L510.69,251.56 L511.17,250.10 L511.09,248.53 L512.40,247.40 L511.94,245.85 L511.84,244.48 L512.87,243.57 L513.00,242.48 L513.76,240.42 L514.82,238.96 L515.85,237.88 L516.19,236.47 L517.37,235.88 L518.73,235.49 L519.50,234.31 L520.31,233.05 L521.49,232.20 L522.58,231.24 L523.80,230.43 L525.23,229.90 L526.38,228.83 L527.34,227.20 L529.18,227.42 L530.61,226.40 L532.53,226.33 L534.04,225.18 L535.78,224.89 L537.55,225.15 L538.33,223.43 L539.40,223.50" fill="none" stroke="#1c04d4" stroke-width="2.4" stroke-linejoin="round"/>
<line x1="54.6" y1="229.1" x2="54.6" y2="265.8" stroke="#000" stroke-width="1.6"/>
<line x1="51.3" y1="229.1" x2="58.2" y2="229.1" stroke="#000" stroke-width="1.6"/>
<line x1="51.3" y1="265.8" x2="58.2" y2="265.8" stroke="#000" stroke-width="1.6"/>
<line x1="314.5" y1="331.4" x2="314.5" y2="378.6" stroke="#000" stroke-width="1.6"/>
<line x1="311" y1="331.4" x2="318" y2="331.4" stroke="#000" stroke-width="1.6"/>
<line x1="311" y1="378.6" x2="318" y2="378.6" stroke="#000" stroke-width="1.6"/>
<line x1="51.5" y1="314.8" x2="94.7" y2="314.8" stroke="#000" stroke-width="1.7"/>
<line x1="51.5" y1="344.5" x2="94.7" y2="344.5" stroke="#924628" stroke-width="1.7"/>
<line x1="51.5" y1="374.3" x2="94.7" y2="374.3" stroke="#1c04d4" stroke-width="1.7"/>
<text x="85.2" y="417.5" style="font-family:'Liberation Sans',sans-serif;font-size:16px;" text-anchor="middle" >1600</text>
<text x="170.3" y="417.5" style="font-family:'Liberation Sans',sans-serif;font-size:16px;" text-anchor="middle" >1200</text>
<text x="255.5" y="417.5" style="font-family:'Liberation Sans',sans-serif;font-size:16px;" text-anchor="middle" >800</text>
<text x="305.6" y="417.5" style="font-family:'Liberation Sans',sans-serif;font-size:16px;" text-anchor="middle" >4000</text>
<text x="395.55" y="417.5" style="font-family:'Liberation Sans',sans-serif;font-size:16px;" text-anchor="middle" >3500</text>
<text x="485.5" y="417.5" style="font-family:'Liberation Sans',sans-serif;font-size:16px;" text-anchor="middle" >3000</text>
<text x="159.4" y="443.9" style="font-family:'Liberation Sans',sans-serif;font-size:21.8px;" text-anchor="middle" >Wavenumber (cm<tspan dy="-10" font-size="12.5">-1</tspan><tspan dy="10">)</tspan></text>
<text x="422.4" y="443.9" style="font-family:'Liberation Sans',sans-serif;font-size:21.8px;" text-anchor="middle" >Wavenumber (cm<tspan dy="-10" font-size="12.5">-1</tspan><tspan dy="10">)</tspan></text>
<text transform="translate(20.2,214.7) rotate(-90)" style="font-family:'Liberation Sans',sans-serif;font-size:21.8px" text-anchor="middle">Absorbance (%)</text>
<text x="270" y="29.6" style="font-family:'Liberation Sans',sans-serif;font-size:22px;font-weight:bold;" text-anchor="end" >(a)</text>
<text x="533" y="29.3" style="font-family:'Liberation Sans',sans-serif;font-size:22px;font-weight:bold;" text-anchor="end" >(b)</text>
<text x="58" y="252.8" style="font-family:'Liberation Sans',sans-serif;font-size:14px;" text-anchor="start" >10</text>
<text x="317.5" y="360.5" style="font-family:'Liberation Sans',sans-serif;font-size:14.5px;" text-anchor="start" >0.5</text>
<text x="100.5" y="321.3" style="font-family:'Liberation Sans',sans-serif;font-size:20px;" text-anchor="start" >3 - SiO<tspan dx="-1.2" dy="6.6" font-size="11">2</tspan></text>
<text x="100.5" y="351.0" style="font-family:'Liberation Sans',sans-serif;font-size:20px;" text-anchor="start" >5 - SiO<tspan dx="-1.2" dy="6.6" font-size="11">2</tspan></text>
<text x="100.5" y="380.7" style="font-family:'Liberation Sans',sans-serif;font-size:20px;" text-anchor="start" >7 - SiO<tspan dx="-1.2" dy="6.6" font-size="11">2</tspan></text></svg>
</body></html>
